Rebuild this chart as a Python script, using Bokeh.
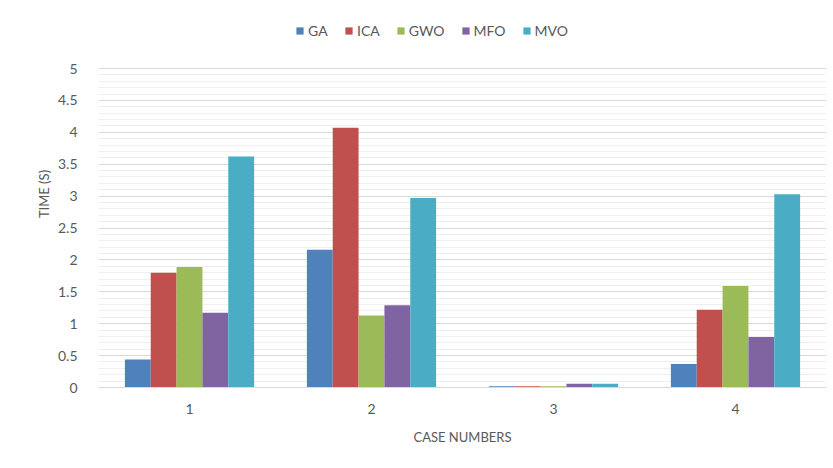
from bokeh.plotting import figure
from bokeh.models import (ColumnDataSource, FactorRange, Range1d, FixedTicker, Legend, LegendItem,
                          CustomJSTickFormatter)
from bokeh.transform import dodge
from bokeh.embed import file_html
from bokeh.resources import INLINE

cases = ["1", "2", "3", "4"]
series = ["GA", "ICA", "GWO", "MFO", "MVO"]
GA = [0.44, 2.16, 0.02, 0.37]
ICA = [1.80, 4.07, 0.02, 1.22]
GWO = [1.89, 1.13, 0.02, 1.59]
MFO = [1.17, 1.29, 0.06, 0.79]
MVO = [3.62, 2.97, 0.06, 3.03]
colors = ["#4f81bd", "#c0504d", "#9bbb59", "#8064a2", "#4bacc6"]
y_ticks = [0, 0.5, 1, 1.5, 2, 2.5, 3, 3.5, 4, 4.5, 5]
y_minor = [round(i * 0.1, 1) for i in range(51) if i % 5 != 0]

src = ColumnDataSource(dict(case=cases, GA=GA, ICA=ICA, GWO=GWO, MFO=MFO, MVO=MVO))

FONT = "Lato"
GREY = "#595959"

# frame spans the full top so the legend (drawn inside the frame) is not clipped
p = figure(width=826, height=460, x_range=FactorRange(*cases, range_padding=0),
           y_range=Range1d(0, 6.066), output_backend="svg", toolbar_location=None,
           min_border_left=98, min_border_right=0, min_border_top=0, min_border_bottom=73)
p.outline_line_color = None

bw = 0.142
offsets = [-2 * bw, -bw, 0, bw, 2 * bw]
items = []
for s, c, o in zip(series, colors, offsets):
    r = p.vbar(x=dodge("case", o, range=p.x_range), top=s, width=bw, source=src,
               fill_color=c, line_color=None)
    items.append(LegendItem(label=s, renderers=[r]))

legend = Legend(items=items, orientation="horizontal", location=(197, 348),
                label_text_font=FONT, label_text_font_size="14px", label_text_color=GREY,
                glyph_width=9, glyph_height=9, spacing=16, label_standoff=4,
                border_line_color=None, background_fill_alpha=0, padding=0, margin=0)
p.add_layout(legend)

p.yaxis.ticker = FixedTicker(ticks=y_ticks, minor_ticks=y_minor)
p.yaxis.formatter = CustomJSTickFormatter(code="return tick.toString();")
p.ygrid.grid_line_color = "#d9d9d9"
p.ygrid.minor_grid_line_color = "#efefef"
p.xgrid.grid_line_color = None

p.yaxis.axis_line_color = None
p.yaxis.major_tick_line_color = None
p.yaxis.minor_tick_line_color = None
p.yaxis.major_label_standoff = 15
p.yaxis.axis_label = "TIME (S)"
p.yaxis.axis_label_standoff = 3

p.xaxis.axis_line_color = "#d9d9d9"
p.xaxis.major_tick_line_color = None
p.xaxis.minor_tick_line_color = None
p.xaxis.major_label_standoff = 10
p.xaxis.axis_label = "CASE NUMBERS"
p.xaxis.axis_label_standoff = 12

for ax in (p.xaxis, p.yaxis):
    ax.major_label_text_font = FONT
    ax.major_label_text_font_size = "14px"
    ax.major_label_text_color = GREY
    ax.axis_label_text_font = FONT
    ax.axis_label_text_font_size = "13px"
    ax.axis_label_text_font_style = "normal"
    ax.axis_label_text_color = GREY

open("out.html", "w").write(file_html(p, INLINE))
